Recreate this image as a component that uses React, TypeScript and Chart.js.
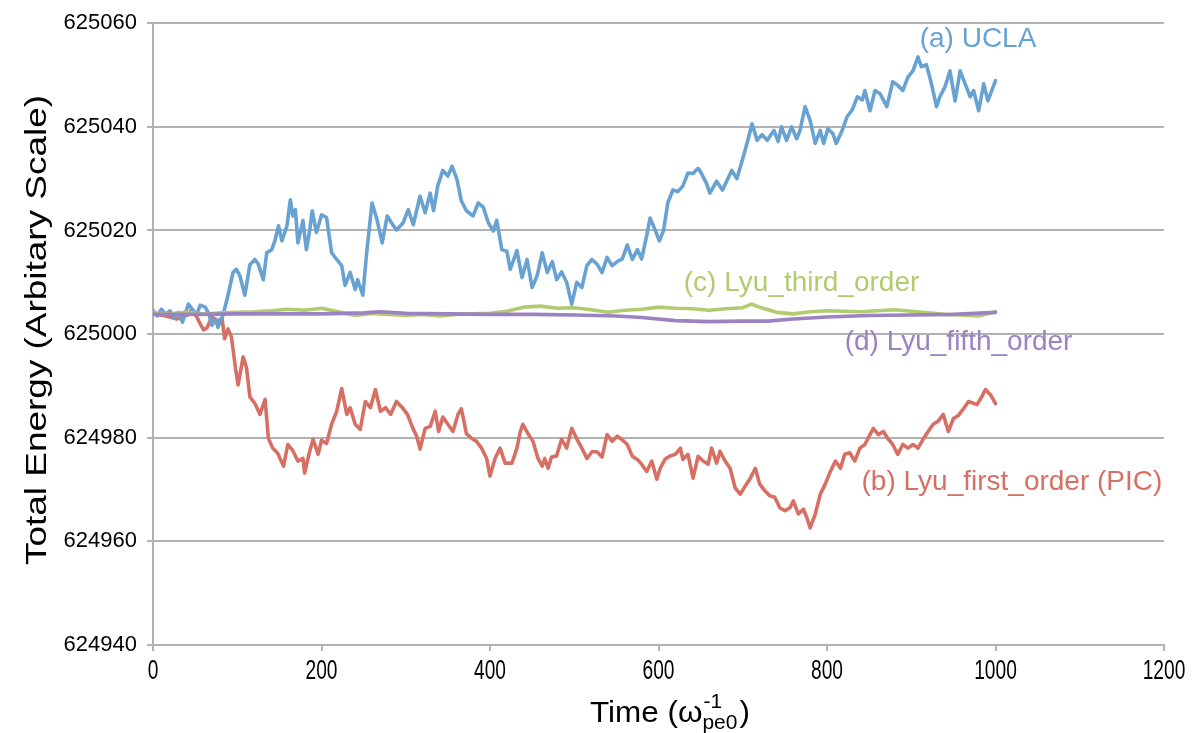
import React, { useEffect, useRef } from "react";
import { Chart, registerables } from "chart.js";

Chart.register(...registerables);

// ---------- DATA ----------
const uclaT = [0,5,10,15,20,25,30,35,42,48,52,56,62,66,70,74,77,80,83,89,95,99,103,109,115,121,125,131,135,141,145,149,153,159,163,166,169,172,178,182,186,189,194,200,206,212,218,224,228,234,240,243,249,254,260,266,272,278,283,289,297,303,309,315,317,323,329,333,338,344,350,355,361,366,372,380,386,392,398,404,408,414,420,424,432,438,444,450,456,462,468,474,479,485,491,497,503,509,515,521,527,533,539,545,551,557,563,569,575,580,586,590,596,601,606,611,617,623,629,635,641,647,649,657,661,669,676,687,693,699,705,711,717,723,729,737,742,746,752,758,764,768,774,780,786,792,796,801,807,811,818,824,830,836,842,845,851,857,863,871,878,884,890,896,902,908,912,918,924,930,934,940,946,952,958,964,970,974,980,986,991,1000];
const uclaE = [625004.6,625003.5,625004.8,625003.8,625004.5,625003.2,625004.2,625002.3,625005.8,625004.5,625003.8,625005.6,625005.2,625004,625001.7,625003,625001.3,625002.5,625003.6,625007.5,625011.9,625012.5,625011.3,625007.5,625013.4,625014.4,625013.5,625010.5,625015.7,625016.3,625018.2,625020.9,625018,625020.9,625025.9,625022.8,625024,625017.6,625021.9,625016.3,625020,625023.8,625019.6,625023,625022.5,625015.7,625014.4,625013.2,625009.4,625011.9,625008.6,625010.5,625007.5,625016.3,625025.3,625022,625017.6,625022.8,625021.5,625020.1,625021.5,625024,625021.1,625025.3,625026.6,625023.4,625027.2,625023.8,625028.6,625031.6,625030.5,625032.4,625029.7,625025.7,625023.8,625022.8,625025.3,625024.5,625021.5,625019.9,625022,625016.3,625016,625012.5,625016.1,625010.9,625014.4,625009,625011.3,625015.7,625011.9,625014,625010.5,625012,625010,625005.8,625010,625009,625013.2,625014.4,625013.5,625011.9,625014.8,625013.2,625014,625014.5,625017.2,625014.4,625016.3,625014.5,625019,625022.4,625020.1,625018,625020,625025.3,625027.8,625027.5,625028.6,625031.1,625031,625032,625031.6,625029.1,625027.2,625029.5,625027.8,625031.6,625030,625033.3,625036.8,625040.6,625037.4,625038.5,625037.4,625039.3,625037.2,625040,625037.4,625040,625037.7,625039.3,625043.9,625041.2,625036.8,625039.3,625036.8,625039.6,625038.7,625036.8,625039.3,625042,625043.3,625045.8,625045.2,625047,625043.1,625047,625046.4,625043.9,625048.7,625048,625047,625049.6,625050.8,625053.5,625051.6,625052,625048.3,625043.9,625045.8,625047.7,625050.8,625045,625050.8,625048.3,625045.8,625047,625043.1,625048.3,625045,625048.9];

const firstT = [0,5,12,20,28,36,42,46,52,56,60,64,70,76,82,85,89,93,95,98,101,107,111,115,121,127,133,137,142,148,155,160,166,172,178,180,186,190,196,200,206,212,218,224,230,234,240,246,252,258,264,270,276,282,289,296,302,308,313,317,323,329,335,339,344,350,356,362,366,372,378,384,390,396,400,406,412,418,426,432,436,439,445,451,457,462,465,469,473,479,485,491,497,503,509,515,521,527,533,539,545,551,557,563,569,575,580,586,592,598,602,608,614,620,626,629,635,641,647,653,659,663,669,673,679,685,691,697,703,709,715,720,726,732,738,744,750,756,760,766,772,776,780,786,792,798,804,810,816,821,827,833,839,845,851,855,861,867,872,878,884,890,896,902,908,914,920,926,932,938,944,950,956,962,968,978,984,988,994,1000];
const firstE = [625004,625003.8,625003.6,625003.3,625002.9,625003.3,625003.8,625004.8,625003.3,625002,625000.8,625001.2,625003.3,625002.5,625003,624999.1,625001,624999.5,624997.1,624993.3,624990.2,624995.6,624993.5,624987.9,624986.6,624984.5,624987.4,624979.9,624978,624977,624974.5,624978.7,624977.5,624975.5,624976,624973.2,624977.4,624979.7,624976.8,624979.5,624978.9,624982.6,624985.1,624989.5,624984.5,624985.8,624982.6,624981.6,624987,624985.8,624989.3,624985.1,624985.8,624984.5,624987,624985.8,624984.5,624982,624980.3,624977.8,624981.8,624982.2,624985.1,624981.2,624984,624982.6,624981.2,624984.5,624985.6,624980.8,624979.9,624979.3,624978,624976,624972.6,624976,624978,624975.1,624975.1,624978,624981.2,624982.6,624980.8,624979.3,624976,624974.5,624976,624974.1,624976.3,624976.5,624979.7,624978,624981.8,624979.8,624978,624976,624977.3,624977.3,624976.3,624980.6,624979.3,624980.3,624979.6,624978.7,624976.4,624975.8,624974.9,624973.5,624975.5,624972,624974.1,624975.9,624976.5,624976.8,624978,624975.8,624976.8,624972.2,624976.4,624975.5,624974.9,624978,624975.1,624977.4,624975.5,624974.1,624970.3,624969.1,624970.7,624972.2,624974.1,624971.1,624969.8,624968.8,624968.5,624966.5,624965.9,624966.5,624967.8,624965.3,624966.2,624964.6,624962.6,624965.2,624969.1,624971.1,624973.5,624975.5,624974.1,624976.8,624977.1,624975.5,624978,624978.7,624980.6,624981.8,624980.6,624981.2,624979.9,624978.7,624976.8,624978.7,624978,624978.7,624978,624979.7,624981.2,624982.6,624983.2,624984.5,624981.2,624983.7,624984.3,624985.6,624987,624986.4,624988,624989.3,624988.3,624986.6];

const thirdT = [0,20,40,60,80,100,120,140,160,180,200,220,240,260,280,300,320,340,360,380,400,420,440,460,480,500,520,540,560,580,600,620,640,660,680,700,710,720,740,760,780,800,820,840,860,880,900,920,940,960,980,1000];
const thirdE = [625004.1,625003.9,625004.2,625003.8,625004.1,625004.2,625004.3,625004.5,625004.8,625004.6,625005,625004.3,625003.6,625004,625003.8,625003.6,625003.8,625003.5,625003.8,625003.9,625004,625004.4,625005.2,625005.4,625005,625005.1,625004.7,625004.2,625004.6,625004.8,625005.2,625005,625004.9,625004.6,625004.9,625005.1,625005.8,625005.2,625004.2,625003.9,625004.3,625004.5,625004.4,625004.3,625004.5,625004.7,625004.4,625004.1,625003.8,625003.7,625003.5,625004.3];

const fifthT = [0,50,100,150,200,250,270,300,350,400,450,500,550,580,620,660,700,730,760,800,850,900,950,1000];
const fifthE = [625003.8,625003.8,625003.9,625003.9,625003.9,625004.1,625004.3,625004,625003.9,625003.8,625003.8,625003.7,625003.5,625003.2,625002.6,625002.4,625002.5,625002.5,625002.9,625003.3,625003.6,625003.7,625003.8,625004.2];

const xTicks = { min: 0, max: 1200, step: 200 };
const yTicks = { min: 624940, max: 625060, step: 20 };

const seriesNames = ["(a) UCLA", "(b) Lyu_first_order (PIC)", "(c) Lyu_third_order", "(d) Lyu_fifth_order"];
// label anchor positions in data coordinates (left edge, vertical middle)
const labelT = [910, 841, 630, 821];
const labelE = [625056.9, 624971.4, 625009.8, 624998.5];

const yTitle = "Total Energy (Arbitary Scale)";

const COLORS = {
  blue: "rgb(104,162,210)",
  red: "rgb(214,112,100)",
  green: "rgb(178,203,112)",
  purple: "rgb(155,130,195)",
  grid: "rgb(178,178,178)",
};

const zip = (t: number[], e: number[]) => t.map((x, i) => ({ x, y: e[i] }));

const FONT = '"Liberation Sans", Arial, Helvetica, sans-serif';

const textPlugin = {
  id: "customText",
  afterDraw(chart: any) {
    const ctx = chart.ctx as CanvasRenderingContext2D;
    const xs = chart.scales.x;
    const ys = chart.scales.y;
    ctx.save();
    ctx.fillStyle = "#000";

    // x tick labels (condensed)
    ctx.font = `27px ${FONT}`;
    ctx.textAlign = "center";
    ctx.textBaseline = "middle";
    for (const tk of xs.ticks) {
      const px = xs.getPixelForValue(tk.value);
      ctx.save();
      ctx.translate(px, 672);
      ctx.scale(0.71, 1);
      ctx.fillText(String(tk.value), 0, 0);
      ctx.restore();
    }

    // y title
    ctx.save();
    ctx.font = `29px ${FONT}`;
    const yw = ctx.measureText(yTitle).width;
    ctx.translate(38, 330);
    ctx.rotate(-Math.PI / 2);
    ctx.scale(470 / yw, 1);
    ctx.textAlign = "center";
    ctx.textBaseline = "middle";
    ctx.fillText(yTitle, 0, 0);
    ctx.restore();

    // x title: Time (ω^{-1}_{pe0})
    ctx.save();
    const big = `30px ${FONT}`;
    const small = `20px ${FONT}`;
    ctx.font = big;
    const wMain = ctx.measureText("Time (ω").width;
    const wClose = ctx.measureText(")").width;
    ctx.font = small;
    const wSup = ctx.measureText("-1").width;
    const wSub = ctx.measureText("pe0").width;
    const natural = wMain + Math.max(wSup, wSub) + 2 + wClose;
    const sx = 160 / natural;
    ctx.translate(590, 722);
    ctx.scale(sx, 1);
    ctx.textAlign = "left";
    ctx.textBaseline = "alphabetic";
    ctx.font = big;
    ctx.fillText("Time (ω", 0, 0);
    ctx.font = small;
    ctx.fillText("-1", wMain + 1, -14);
    ctx.fillText("pe0", wMain, 7);
    ctx.font = big;
    ctx.fillText(")", wMain + Math.max(wSup, wSub) + 2, 0);
    ctx.restore();

    // series labels
    const labelColors = [COLORS.blue, COLORS.red, COLORS.green, COLORS.purple];
    ctx.font = `28px ${FONT}`;
    ctx.textAlign = "left";
    ctx.textBaseline = "middle";
    seriesNames.forEach((name, i) => {
      ctx.fillStyle = labelColors[i];
      ctx.fillText(name, xs.getPixelForValue(labelT[i]), ys.getPixelForValue(labelE[i]));
    });
    ctx.restore();
  },
};

export default function App() {
  const ref = useRef<HTMLCanvasElement | null>(null);
  useEffect(() => {
    document.body.style.margin = "0";
    const canvas = ref.current!;
    const line = (data: any, color: string) => ({
      data,
      borderColor: color,
      backgroundColor: color,
      borderWidth: 3.6,
      pointRadius: 0,
      tension: 0,
      fill: false,
      borderJoinStyle: "round" as const,
      borderCapStyle: "round" as const,
    });
    const chart = new Chart(canvas, {
      type: "line",
      data: {
        datasets: [
          line(zip(fifthT, fifthE), COLORS.purple),
          line(zip(thirdT, thirdE), COLORS.green),
          line(zip(uclaT, uclaE), COLORS.blue),
          line(zip(firstT, firstE), COLORS.red),
        ],
      },
      options: {
        animation: false,
        responsive: false,
        devicePixelRatio: 1,
        parsing: false as any,
        layout: { padding: { top: 19, right: 28, left: 0, bottom: 0 } },
        plugins: { legend: { display: false }, tooltip: { enabled: false } },
        scales: {
          x: {
            type: "linear",
            min: xTicks.min,
            max: xTicks.max,
            ticks: { stepSize: xTicks.step, display: false },
            grid: { drawOnChartArea: false, drawTicks: true, tickLength: 6, color: COLORS.grid, lineWidth: 2 },
            border: { display: true, color: COLORS.grid, width: 2 },
            afterFit: (s: any) => { s.height = 88; },
          },
          y: {
            type: "linear",
            min: yTicks.min,
            max: yTicks.max,
            ticks: {
              stepSize: yTicks.step,
              color: "#000",
              padding: 10,
              font: { family: FONT, size: 22 },
              callback: (v: any) => String(v),
            },
            grid: { color: COLORS.grid, lineWidth: 2, tickLength: 6 },
            border: { display: true, color: COLORS.grid, width: 2 },
            afterFit: (s: any) => { s.width = 153; },
          },
        },
      },
      plugins: [textPlugin],
    });
    return () => chart.destroy();
  }, []);
  return (
    <div style={{ width: 1192, height: 733 }}>
      <canvas ref={ref} width={1192} height={733} style={{ display: "block" }} />
    </div>
  );
}
